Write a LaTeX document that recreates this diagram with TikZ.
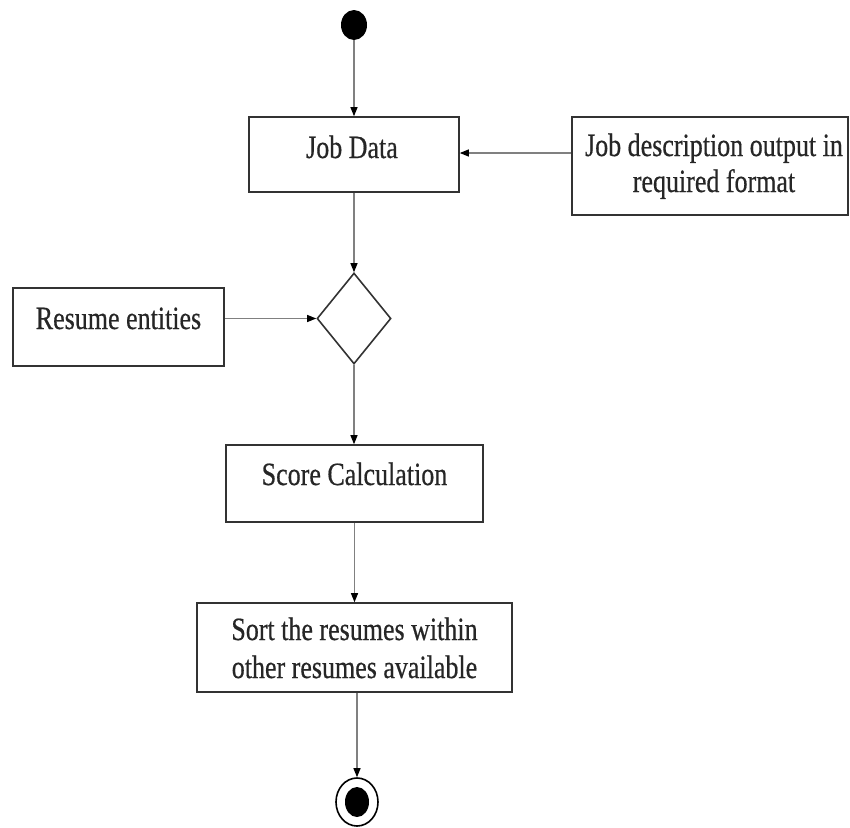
\documentclass[tikz,border=0pt]{standalone}
\usepackage{fontspec}
\setmainfont[FakeStretch=0.8,FakeBold=0.5]{Liberation Serif}
\usetikzlibrary{shapes.geometric,arrows.meta}
\begin{document}
\begin{tikzpicture}[x=1pt,y=-1pt,
  box/.style={draw=black!80,line width=1.6pt,fill=white,inner sep=0pt},
  txt/.style={anchor=base,inner sep=0pt,font=\fontsize{32.5}{37}\selectfont,text=black!85},
  flow/.style={draw=black!50,line width=1.2pt,
    -{Triangle[length=9pt,width=7pt,color=black,fill=black]}}
]
\useasboundingbox (0,0) rectangle (850,827);
\node[ellipse,fill=black,minimum width=26pt,minimum height=30pt,inner sep=0pt] (start) at (354,25) {};
\node[box,minimum width=210pt,minimum height=75pt] (jd) at (354,154.5) {};
\node[txt] (jdt) at (352,158) {Job Data};
\node[box,minimum width=276pt,minimum height=98pt] (desc) at (710,166) {};
\node[txt] (desct1) at (714,156) {Job description output in};
\node[txt] (desct2) at (714,192) {required format};
\node[diamond,draw=black!80,line width=1.6pt,fill=white,minimum width=74pt,minimum height=91pt,inner sep=0pt] (dia) at (354,318.5) {};
\node[box,minimum width=211pt,minimum height=78pt] (re) at (118.5,327) {};
\node[txt] (ret) at (118.5,329) {Resume entities};
\node[box,minimum width=257pt,minimum height=77pt] (sc) at (354.5,483.5) {};
\node[txt] (sct) at (354.5,485) {Score Calculation};
\node[box,minimum width=315pt,minimum height=89pt] (sort) at (354.5,647.5) {};
\node[txt] (sortt1) at (354.5,640) {Sort the resumes within};
\node[txt] (sortt2) at (354.5,678) {other resumes available};
\node[ellipse,draw=black,line width=1.6pt,minimum width=42pt,minimum height=48pt,inner sep=0pt] (end) at (357,802) {};
\node[ellipse,fill=black,minimum width=24pt,minimum height=30pt,inner sep=0pt] (endin) at (end.center) {};

\draw[flow] (start) -- (jd.north);
\draw[flow] ([yshift=13pt]desc.west) -- ([yshift=13pt]desc.west -| jd.east);
\draw[flow] (jd.south) -- (dia.north);
\draw[flow] (re.east |- dia.west) -- (dia.west);
\draw[flow] (dia.south) -- (dia.south |- sc.north);
\draw[flow] (sc.south) -- (sc.south |- sort.north);
\draw[flow] (sort.south -| end.north) -- (end.north);
\end{tikzpicture}
\end{document}
